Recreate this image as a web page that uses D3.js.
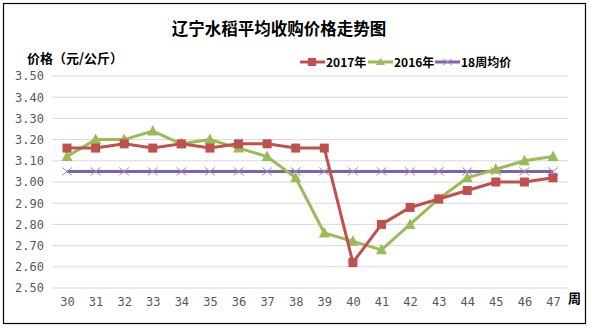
<!DOCTYPE html>
<html><head><meta charset="utf-8">
<script src="https://cdn.jsdelivr.net/npm/d3@7"></script>
<style>body{margin:0;background:#fff}svg{display:block}</style>
</head><body>
<svg id="c" width="592" height="328"></svg>
<script>
const weeks = ["30","31","32","33","34","35","36","37","38","39","40","41","42","43","44","45","46","47"];
const s2017 = [3.16,3.16,3.18,3.16,3.18,3.16,3.18,3.18,3.16,3.16,2.62,2.80,2.88,2.92,2.96,3.00,3.00,3.02];
const s2016 = [3.12,3.20,3.20,3.24,3.18,3.20,3.16,3.12,3.02,2.76,2.72,2.68,2.80,2.92,3.02,3.06,3.10,3.12];
const avg18 = [3.05,3.05,3.05,3.05,3.05,3.05,3.05,3.05,3.05,3.05,3.05,3.05,3.05,3.05,3.05,3.05,3.05,3.05];
const yTicks = [2.5,2.6,2.7,2.8,2.9,3.0,3.1,3.2,3.3,3.4,3.5];
const seriesNames = ["2017年","2016年","18周均价"];
const title = "辽宁水稻平均收购价格走势图";
const yTitle = "价格（元/公斤）";
const xTitle = "周";

const svg = d3.select("#c");
svg.append("rect").attr("x",3.5).attr("y",3.5).attr("width",582).attr("height",320)
  .attr("fill","#fff").attr("stroke","#000").attr("stroke-width",1.2);

const x = d3.scalePoint().domain(weeks).range([67,553]);
const y = d3.scaleLinear().domain([2.5,3.5]).range([288,76]);

const g = svg.append("g");
g.selectAll("line.grid").data(yTicks).join("line")
  .attr("x1",52).attr("x2",568).attr("y1",d=>y(d)).attr("y2",d=>y(d))
  .attr("stroke","#d9d9d9").attr("stroke-width",1);

const yAxis = d3.axisLeft(y).tickValues(yTicks).tickSize(0).tickPadding(0).tickFormat(d3.format(".2f"));
const ya = svg.append("g").attr("transform","translate(44,0)").call(yAxis);
ya.select(".domain").remove();
ya.selectAll("text").attr("font-family","'DejaVu Sans Mono', monospace").attr("font-size",12).attr("fill","#595959");

const xAxis = d3.axisBottom(x).tickSize(0).tickPadding(0);
const xa = svg.append("g").attr("transform","translate(0,297)").call(xAxis);
xa.select(".domain").remove();
xa.selectAll("text").attr("font-family","'DejaVu Sans Mono', monospace").attr("font-size",12).attr("fill","#595959");

const colors = ["#C0504D","#9BBB59","#7F63A8"];
const line = d3.line().x((d,i)=>x(weeks[i])).y(d=>y(d));

svg.append("path").datum(avg18).attr("d",line).attr("fill","none").attr("stroke",colors[2]).attr("stroke-width",3);
svg.selectAll("g.xm").data(avg18).join("g").attr("class","xm")
  .attr("transform",(d,i)=>`translate(${x(weeks[i])},${y(d)})`)
  .each(function(){
    d3.select(this).append("path").attr("d","M-5,-4L5,4M-5,4L5,-4").attr("stroke","#9d8bc4").attr("stroke-width",1);
  });

svg.append("path").datum(s2016).attr("d",line).attr("fill","none").attr("stroke",colors[1]).attr("stroke-width",3);
svg.selectAll("path.tri").data(s2016).join("path").attr("class","tri")
  .attr("transform",(d,i)=>`translate(${x(weeks[i])},${y(d)})`)
  .attr("d","M0,-6L5.5,4.5L-5.5,4.5Z").attr("fill",colors[1]);

svg.append("path").datum(s2017).attr("d",line).attr("fill","none").attr("stroke",colors[0]).attr("stroke-width",3);
svg.selectAll("rect.sq").data(s2017).join("rect").attr("class","sq")
  .attr("x",(d,i)=>x(weeks[i])-4.5).attr("y",d=>y(d)-4.5).attr("width",9).attr("height",9).attr("fill",colors[0]);

svg.append("text").attr("x",279).attr("y",35).attr("text-anchor","middle")
  .attr("font-family","'Noto Sans CJK SC'").attr("font-weight","bold").attr("font-size",16.5)
  .attr("fill","#000").text(title);
svg.append("text").attr("x",27).attr("y",63)
  .attr("font-family","'Noto Sans CJK SC'").attr("font-weight","bold").attr("font-size",13)
  .attr("fill","#000").text(yTitle);
svg.append("text").attr("x",568).attr("y",303)
  .attr("font-family","'Noto Sans CJK SC'").attr("font-weight","bold").attr("font-size",13)
  .attr("fill","#000").text(xTitle);

const legX = [300,368,435];
const lg = svg.append("g");
seriesNames.forEach((n,i)=>{
  const lx = legX[i], ly = 62;
  lg.append("line").attr("x1",lx).attr("x2",lx+25).attr("y1",ly).attr("y2",ly).attr("stroke",colors[i]).attr("stroke-width",3);
  if(i===0) lg.append("rect").attr("x",lx+8).attr("y",ly-4).attr("width",8).attr("height",8).attr("fill",colors[0]);
  if(i===1) lg.append("path").attr("d",`M${lx+12.5},${ly-4}L${lx+17},${ly+3}L${lx+8},${ly+3}Z`).attr("fill",colors[1]);
  if(i===2) lg.append("path").attr("d",`M${lx+8},${ly-3}L${lx+17},${ly+3}M${lx+8},${ly+3}L${lx+17},${ly-3}`).attr("stroke","#9d8bc4").attr("stroke-width",1);
  lg.append("text").attr("x",lx+26).attr("y",ly+5)
    .attr("font-family","'Noto Sans CJK SC'").attr("font-weight","bold").attr("font-size",12)
    .attr("fill","#000").text(n);
});
</script>
</body></html>
